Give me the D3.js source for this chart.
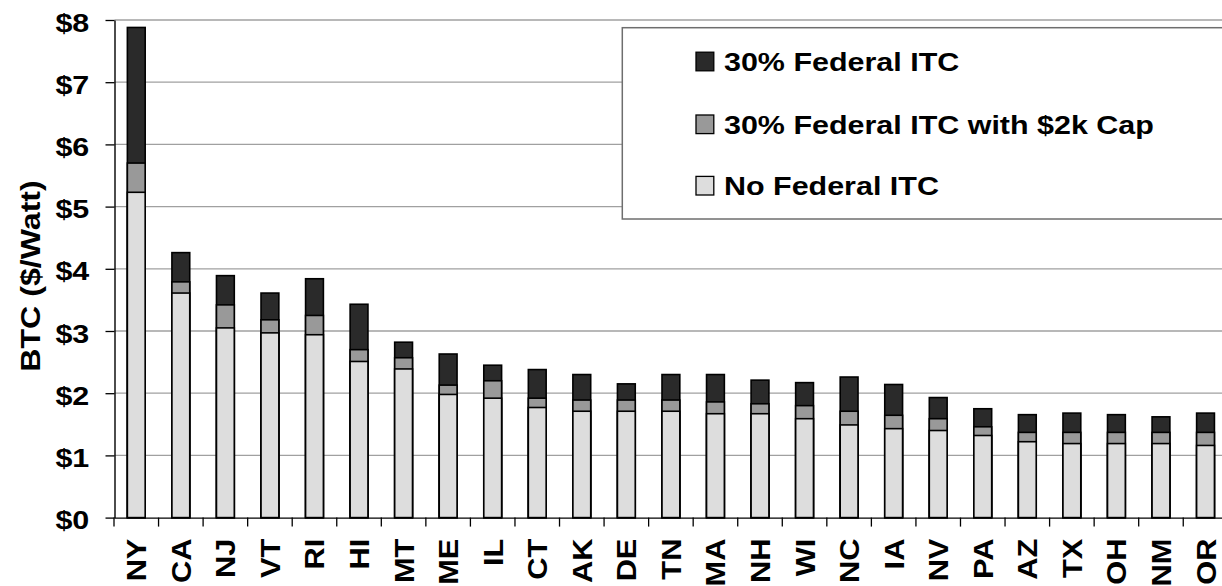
<!DOCTYPE html>
<html>
<head>
<meta charset="utf-8">
<script src="https://cdn.jsdelivr.net/npm/d3@7"></script>
<style>
  html, body { margin: 0; padding: 0; background: #fff; }
  svg { display: block; }
  text { font-family: "Liberation Sans", Arial, sans-serif; font-weight: bold; fill: #000; }
</style>
</head>
<body>
<svg id="chart" width="1222" height="586"></svg>
<script>
// States, ordered by break-even turnkey cost without the federal credit
const states = ["NY","CA","NJ","VT","RI","HI","MT","ME","IL","CT","AK","DE","TN",
                "MA","NH","WI","NC","IA","NV","PA","AZ","TX","OH","NM","OR"];

// Break-even turnkey cost ($/W) under each federal ITC scenario
const noFederalItc = [5.23,3.61,3.05,2.97,2.94,2.51,2.39,1.98,1.92,1.77,1.71,1.71,1.71,
                      1.67,1.67,1.59,1.49,1.43,1.40,1.32,1.22,1.19,1.19,1.19,1.16];
const federalItcCapped = [5.70,3.79,3.42,3.18,3.25,2.70,2.57,2.13,2.20,1.92,1.89,1.89,1.89,
                          1.86,1.83,1.80,1.71,1.645,1.59,1.46,1.37,1.37,1.37,1.37,1.37];
const federalItcFull = [7.88,4.26,3.89,3.61,3.84,3.43,2.82,2.63,2.45,2.38,2.30,2.15,2.30,
                        2.30,2.21,2.17,2.26,2.14,1.93,1.75,1.655,1.68,1.655,1.62,1.68];

const yTicks = [0,1,2,3,4,5,6,7,8];
const legendLabels = ["30% Federal ITC", "30% Federal ITC with $2k Cap", "No Federal ITC"];
const seriesColors = ["#2a2a2a", "#999999", "#dddddd"];

const svg = d3.select("#chart");
const W = 1222, H = 586;
const plot = { left: 114.5, top: 20, bottom: 517.6, right: 1227.8 };
const sx = 1.19;       // wide bold lettering
const fontSize = 25.6;

const x = d3.scaleBand().domain(states)
  .range([114, plot.right]).paddingInner(0.6).paddingOuter(0.3);
const y = d3.scaleLinear().domain([0, 8]).range([plot.bottom, plot.top]);

// Horizontal gridlines
svg.append("g").selectAll("line").data(yTicks.filter(d => d > 0)).join("line")
  .attr("x1", plot.left).attr("x2", W)
  .attr("y1", d => y(d)).attr("y2", d => y(d))
  .attr("stroke", "#a0a0a0").attr("stroke-width", 1.3);

// Bars: each scenario drawn from zero, tallest first
const series = [federalItcFull, federalItcCapped, noFederalItc];
series.forEach((vals, si) => {
  svg.append("g").selectAll("rect").data(states).join("rect")
    .attr("x", d => x(d))
    .attr("width", x.bandwidth())
    .attr("y", (d, i) => y(vals[i]))
    .attr("height", (d, i) => y(0) - y(vals[i]))
    .attr("fill", seriesColors[si])
    .attr("stroke", "#000").attr("stroke-width", 1.6);
});

// Y axis
const yAxis = svg.append("g").attr("transform", `translate(${plot.left},0)`)
  .call(d3.axisLeft(y).tickValues(yTicks).tickSizeInner(9).tickSizeOuter(0)
        .tickFormat(d => "$" + d));
yAxis.select(".domain").attr("stroke", "#000").attr("stroke-width", 1.4);
yAxis.selectAll(".tick line").attr("stroke", "#000").attr("stroke-width", 1.3);
yAxis.selectAll(".tick text")
  .attr("x", 0).attr("dy", null).attr("text-anchor", "end")
  .style("font-size", fontSize + "px")
  .attr("transform", `translate(-25.2,11) scale(${sx},1)`);

// X axis (labels at band centres, ticks between bands)
const xAxis = svg.append("g").attr("transform", `translate(0,${plot.bottom})`)
  .call(d3.axisBottom(x).tickSizeInner(0).tickSizeOuter(0).tickPadding(0));
xAxis.select(".domain").attr("stroke", "#000").attr("stroke-width", 1.4);
xAxis.selectAll(".tick text")
  .attr("x", 0).attr("y", 0).attr("dy", null).attr("text-anchor", "end")
  .style("font-size", "27.5px")
  .attr("transform", `translate(10,21) rotate(-90) scale(1.12,1)`);

const boundaries = d3.range(states.length + 1).map(i => 114 + i * x.step());
xAxis.append("g").selectAll("line").data(boundaries).join("line")
  .attr("x1", d => d).attr("x2", d => d).attr("y1", 0).attr("y2", 9)
  .attr("stroke", "#000").attr("stroke-width", 1.3);

// Y axis title
svg.append("text")
  .attr("text-anchor", "middle")
  .style("font-size", "27px")
  .attr("transform", `translate(40,276) rotate(-90) scale(${sx},1)`)
  .text("BTC ($/Watt)");

// Legend
const legend = svg.append("g");
legend.append("rect")
  .attr("x", 622.3).attr("y", 27.7).attr("width", 620).attr("height", 191.3)
  .attr("fill", "#fff").attr("stroke", "#6e6e6e").attr("stroke-width", 1.5);
const rowY = [61.5, 124.3, 185.7];
legendLabels.forEach((lab, i) => {
  legend.append("rect")
    .attr("x", 696).attr("y", rowY[i] - 9.3).attr("width", 17.8).attr("height", 18.6)
    .attr("fill", seriesColors[i]).attr("stroke", "#000").attr("stroke-width", 1.3);
  legend.append("text")
    .style("font-size", fontSize + "px")
    .attr("transform", `translate(724,${rowY[i] + 9.6}) scale(${sx},1)`)
    .text(lab);
});
</script>
</body>
</html>
